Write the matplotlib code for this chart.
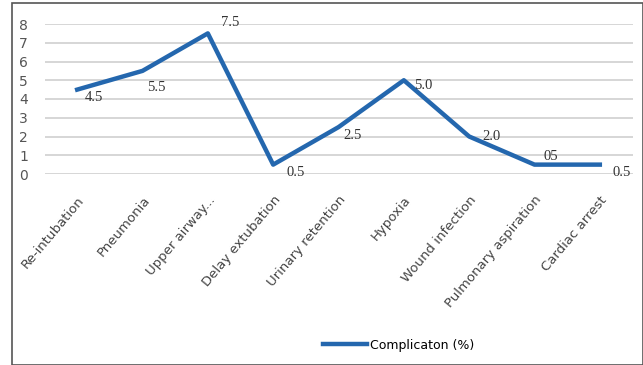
import numpy as np
import matplotlib
matplotlib.use("Agg")
import matplotlib.pyplot as plt
from matplotlib.patches import Rectangle

# data
categories = ["Re-intubation", "Pneumonia", "Upper airway...", "Delay extubation",
              "Urinary retention", "Hypoxia", "Wound infection",
              "Pulmonary aspiration", "Cardiac arrest"]
values = [4.5, 5.5, 7.5, 0.5, 2.5, 5.0, 2.0, 0.5, 0.5]
value_labels = ["4.5", "5.5", "7.5", "0.5", "2.5", "5.0", "2.0", "05", "0.5"]
yticks = [0, 1, 2, 3, 4, 5, 6, 7, 8]

fig = plt.figure(figsize=(6.43, 3.65), dpi=100)
fig.patches.append(Rectangle((12/643, 0), 1 - 12/643, 1 - 3/365, transform=fig.transFigure,
                             fill=False, edgecolor="#555555", linewidth=1.2))
ax = fig.add_axes([44.5/643, (365-174)/365, 588/643, 150/365])

x = np.arange(len(categories))
line, = ax.plot(x, values, color="#2467AE", linewidth=3.2, solid_joinstyle="round")

# data labels (offsets in points)
offsets = [(12, -6), (10, -12), (16, 8), (16, -6), (10, -6), (14, -4), (16, 0), (12, 6), (16, -6)]
for xi, v, t, off in zip(x, values, value_labels, offsets):
    ax.annotate(t, (xi, v), xytext=off, textcoords="offset points",
                ha="center", va="center", fontsize=10.5, family="Liberation Serif", color="#333333")

ax.set_xlim(-0.5, len(categories) - 0.5)
ax.set_ylim(0, 8)
ax.set_yticks(yticks)
ax.yaxis.grid(True, color="#d0d0d0", linewidth=1.2)
ax.set_axisbelow(True)
for s in ax.spines.values():
    s.set_visible(False)
ax.tick_params(axis="both", length=0, colors="#555555", labelsize=10)
ax.tick_params(axis="y", pad=12)
ax.tick_params(axis="x", pad=14)
ax.set_xticks(x)
ax.set_xticklabels(categories, rotation=50, ha="right", rotation_mode="anchor",
                   fontsize=9.5, color="#444444")

fig.legend([line], ["Complicaton (%)"], loc="center", bbox_to_anchor=(0.62, 1 - 345/365),
           frameon=False, fontsize=9, handlelength=3.5, handletextpad=0.2)

fig.savefig("out.png", dpi=100)
